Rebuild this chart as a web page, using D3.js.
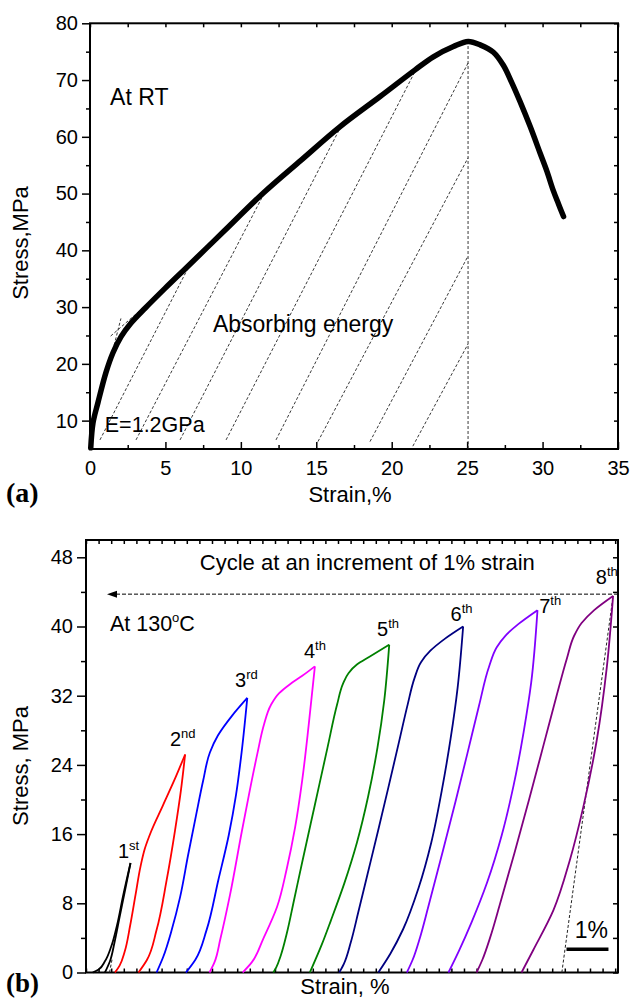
<!DOCTYPE html>
<html>
<head>
<meta charset="utf-8">
<script src="https://d3js.org/d3.v7.min.js"></script>
<style>
body { margin: 0; background: #fff; }
svg { display: block; font-family: "Liberation Sans", Arial, sans-serif; }
</style>
</head>
<body>
<svg width="630" height="999"></svg>
<script>

// ---- (a) tensile curve at RT ----
var rtStrain = [0.05, 0.2, 0.53, 1.06, 1.53, 2.06, 2.72, 3.65, 4.97, 6.37, 7.69, 8.89, 11.49, 14.0, 16.58, 19.23, 21.55, 22.76, 24.09, 25.07, 25.86, 26.74, 27.4, 27.95, 28.51, 29.18, 29.84, 30.29, 30.7, 31.05, 31.39];
var rtStress = [5.2, 9.6, 13.2, 18.5, 22.0, 24.8, 27.2, 29.8, 33.3, 36.9, 40.3, 43.4, 50.1, 55.9, 61.8, 67.1, 71.8, 74.1, 75.9, 76.8, 76.2, 74.9, 72.6, 69.6, 66.2, 61.8, 57.1, 53.9, 50.6, 48.2, 45.95];

// hatch lines of the absorbed energy area
var hatchX0 = [0.66, 3.05, 5.97, 9.02, 12.33, 15.11, 18.56, 21.4];
var hatchY0 = [6.6, 6.6, 6.6, 6.6, 6.6, 6.3, 6.3, 5.5];
var hatchX1 = [6.6, 11.38, 16.57, 21.54, 25.06, 25.06, 25.06, 25.06];
var hatchY1 = [37.4, 49.2, 61.5, 71.5, 73.0, 56.3, 39.0, 23.5];
var tangentA = [[1.37, 24.9], [3.62, 30.1]];
var tangentB = [[1.6, 23.3], [2.05, 28.0]];
var peakLine = [[25.06, 5], [25.06, 76.6]];

var xTicksA = [0, 5, 10, 15, 20, 25, 30, 35];
var xMinorA = [2.5, 7.5, 12.5, 17.5, 22.5, 27.5, 32.5];
var yTicksA = [10, 20, 30, 40, 50, 60, 70, 80];
var yMinorA = [15, 25, 35, 45, 55, 65, 75];

// ---- (b) cyclic loading at 130 C ----
var cycleColors = ["#000000", "#ff0000", "#0000ff", "#ff00ff", "#008000", "#000080", "#8000ff", "#800080"];
var cycleNum = ["1", "2", "3", "4", "5", "6", "7", "8"];
var cycleSup = ["st", "nd", "rd", "th", "th", "th", "th", "th"];
var labelStrain = [0.76, 2.0, 3.55, 5.19, 6.93, 8.68, 10.79, 12.14];
var labelStress = [13.2, 26.2, 33.0, 36.4, 38.9, 40.6, 41.6, 44.9];

// loading branches, [strain, stress], stress rising
var loadCurves = [
  [[0.16,0],[0.3,0.35],[0.45,1.3],[0.6,3.0],[0.74,5.5],[0.88,8.8],[1.06,12.66]],
  [[0.69,0],[0.8,0.8],[0.92,2.4],[1.05,5.4],[1.18,9.0],[1.3,12.3],[1.4,14.3],[1.55,16.3],[1.83,19.3],[2.1,22.2],[2.36,25.2]],
  [[1.68,0],[1.84,1.82],[2.04,4.9],[2.24,8.71],[2.43,13.55],[2.62,18.17],[2.79,22.2],[2.95,25.43],[3.14,27.39],[3.48,29.7],[3.84,31.74]],
  [[2.94,0],[3.06,1.2],[3.2,3.9],[3.43,9.0],[3.71,16.3],[3.90,21.05],[4.08,25.3],[4.24,28.7],[4.40,30.9],[4.6,32.3],[4.85,33.3],[5.15,34.3],[5.45,35.39]],
  [[4.46,0],[4.53,0.6],[4.64,2.0],[4.78,4.5],[4.95,8.3],[5.15,12.8],[5.45,19.4],[5.75,26.0],[5.98,31.0],[6.12,33.4],[6.25,34.6],[6.45,35.6],[6.75,36.5],[7.22,37.89]],
  [[6.03,0],[6.14,1.0],[6.30,3.4],[6.48,6.9],[6.70,11.3],[6.95,16.3],[7.2,21.4],[7.45,26.6],[7.66,31.0],[7.82,34.0],[7.98,35.9],[8.2,37.2],[8.55,38.6],[8.98,40.0]],
  [[7.64,0],[7.78,1.5],[7.95,4.0],[8.15,7.6],[8.5,14.1],[8.8,19.8],[9.08,25.3],[9.36,30.9],[9.6,35.4],[9.78,37.6],[9.98,38.9],[10.3,40.3],[10.75,41.89]],
  [[9.30,0],[9.44,1.5],[9.62,4.0],[9.85,7.8],[10.2,13.8],[10.55,20.0],[10.9,26.4],[11.2,31.9],[11.45,36.3],[11.62,38.9],[11.8,40.4],[12.1,41.9],[12.55,43.54]]
];
// unloading branches, from the peak down to zero stress
var unloadCurves = [
  [[1.06,12.66],[0.93,9.5],[0.8,6.4],[0.68,3.5],[0.57,1.3],[0.45,0]],
  [[2.36,25.2],[2.26,21.05],[2.12,16.44],[1.92,10.67],[1.68,4.9],[1.45,1.44],[1.25,0]],
  [[3.84,31.74],[3.71,25.66],[3.57,20.47],[3.40,15.9],[3.15,10.67],[2.87,4.9],[2.60,1.44],[2.38,0]],
  [[5.45,35.39],[5.3,28.5],[5.15,22.3],[4.98,16.8],[4.78,12.0],[4.55,7.6],[4.22,3.9],[3.95,1.2],[3.73,0]],
  [[7.22,37.89],[7.1,31.4],[6.94,26.0],[6.72,20.4],[6.45,15.0],[6.15,10.3],[5.83,6.0],[5.62,3.3],[5.33,0]],
  [[8.98,40],[8.85,33],[8.68,27.0],[8.47,21.0],[8.22,15.0],[7.92,9.8],[7.55,5.0],[7.25,2.2],[6.96,0]],
  [[10.75,41.89],[10.6,33.5],[10.42,27.8],[10.18,21.6],[9.9,15.9],[9.55,10.4],[9.18,5.8],[8.88,2.5],[8.63,0]],
  [[12.55,43.54],[12.40,35.27],[12.16,26.82],[11.84,19.12],[11.52,12.98],[11.13,7.21],[10.65,2.6],[10.37,0]]
];
var elasticLast = [[11.33, 0], [12.55, 43.54]];
var elasticFirst = [[0.56, 0], [0.62, 1.5]];
var arrowStress = 43.74, arrowFrom = 12.667, arrowTo = 0.5;
var scaleBar = [11.44, 12.44], scaleBarStress = 2.68;

var yTicksB = [0, 8, 16, 24, 32, 40, 48];
var yMinorB = [4, 12, 20, 28, 36, 44];
var xTicksB = d3.range(0, 12.66, 0.3);

var svg = d3.select("svg");
var font = "'Liberation Sans', Arial, sans-serif";

svg.append("rect").attr("width", 630).attr("height", 999).attr("fill", "#fff");

function styleAxis(g, size) {
  g.attr("font-size", size || 20).attr("font-family", font);
  g.select(".domain").remove();
  g.selectAll(".tick line").attr("stroke-width", 1.5);
  g.selectAll(".tick text").attr("fill", "#000");
}

// ================= panel (a) =================
var xA = d3.scaleLinear().domain([0, 35]).range([90, 618]);
var yA = d3.scaleLinear().domain([5, 80]).range([449, 23.3]);
var gA = svg.append("g");

gA.append("g").attr("transform", "translate(0," + yA(5) + ")")
  .call(d3.axisBottom(xA).tickValues(xTicksA).tickSize(-7).tickPadding(12)).call(styleAxis);
gA.append("g").attr("transform", "translate(0," + yA(5) + ")")
  .call(d3.axisBottom(xA).tickValues(xMinorA).tickSize(-4).tickFormat("")).call(styleAxis);
gA.append("g").attr("transform", "translate(0," + yA(80) + ")")
  .call(d3.axisTop(xA).tickValues(xTicksA.concat(xMinorA)).tickSize(-4).tickFormat("")).call(styleAxis);
gA.append("g").attr("transform", "translate(" + xA(0) + ",0)")
  .call(d3.axisLeft(yA).tickValues(yTicksA).tickSize(8).tickPadding(4)).call(styleAxis);
gA.append("g").attr("transform", "translate(" + xA(0) + ",0)")
  .call(d3.axisLeft(yA).tickValues(yMinorA).tickSize(4).tickFormat("")).call(styleAxis);
gA.append("g").attr("transform", "translate(" + xA(35) + ",0)")
  .call(d3.axisRight(yA).tickValues(yTicksA.concat(yMinorA)).tickSize(-4).tickFormat("")).call(styleAxis);

gA.append("rect")
  .attr("x", xA(0)).attr("y", yA(80))
  .attr("width", xA(35) - xA(0)).attr("height", yA(5) - yA(80))
  .attr("fill", "none").attr("stroke", "#000").attr("stroke-width", 2);

var lineA = d3.line().x(function(d) { return xA(d[0]); }).y(function(d) { return yA(d[1]); });

// dashed hatch lines
hatchX0.forEach(function(x0, i) {
  gA.append("path")
    .attr("d", lineA([[x0, hatchY0[i]], [hatchX1[i], hatchY1[i]]]))
    .attr("fill", "none").attr("stroke", "#222").attr("stroke-width", 0.9)
    .attr("stroke-dasharray", "3,2");
});
[tangentA, tangentB, peakLine].forEach(function(seg) {
  gA.append("path").attr("d", lineA(seg))
    .attr("fill", "none").attr("stroke", "#222").attr("stroke-width", 0.9)
    .attr("stroke-dasharray", "3,2");
});

var rtData = rtStrain.map(function(s, i) { return [s, rtStress[i]]; });
gA.append("path")
  .attr("d", lineA.curve(d3.curveCatmullRom.alpha(0.5))(rtData))
  .attr("fill", "none").attr("stroke", "#000").attr("stroke-width", 5.5)
  .attr("stroke-linecap", "round").attr("stroke-linejoin", "round");

gA.append("text").attr("x", xA(1.33)).attr("y", yA(65.6))
  .attr("font-size", 23).text("At RT");
gA.append("text").attr("x", xA(8.15)).attr("y", yA(25.7))
  .attr("font-size", 23).text("Absorbing energy");
gA.append("text").attr("x", xA(0.98)).attr("y", yA(8.0))
  .attr("font-size", 21.5).text("E=1.2GPa");

gA.append("text").attr("x", 350).attr("y", 502)
  .attr("text-anchor", "middle").attr("font-size", 22).text("Strain,%");
gA.append("text").attr("transform", "translate(28,243) rotate(-90)")
  .attr("text-anchor", "middle").attr("font-size", 22).text("Stress,MPa");
gA.append("text").attr("x", 6).attr("y", 502)
  .attr("font-family", "'Liberation Serif', 'Times New Roman', serif")
  .attr("font-weight", "bold").attr("font-size", 28).text("(a)");

// ================= panel (b) =================
var xB = d3.scaleLinear().domain([0, 12.667]).range([86, 618]);
var yB = d3.scaleLinear().domain([0, 50]).range([972.5, 540]);
var gB = svg.append("g");

gB.append("g").attr("transform", "translate(0," + yB(0) + ")")
  .call(d3.axisBottom(xB).tickValues(xTicksB).tickSize(-4).tickFormat("")).call(styleAxis);
gB.append("g").attr("transform", "translate(0," + yB(50) + ")")
  .call(d3.axisTop(xB).tickValues(xTicksB).tickSize(-4).tickFormat("")).call(styleAxis);
gB.append("g").attr("transform", "translate(" + xB(0) + ",0)")
  .call(d3.axisLeft(yB).tickValues(yTicksB).tickSize(9).tickPadding(4)).call(styleAxis);
gB.append("g").attr("transform", "translate(" + xB(0) + ",0)")
  .call(d3.axisLeft(yB).tickValues(yMinorB).tickSize(5).tickFormat("")).call(styleAxis);
gB.append("g").attr("transform", "translate(" + xB(12.667) + ",0)")
  .call(d3.axisRight(yB).tickValues(yTicksB.concat(yMinorB)).tickSize(-5).tickFormat("")).call(styleAxis);

gB.append("rect")
  .attr("x", xB(0)).attr("y", yB(50))
  .attr("width", xB(12.667) - xB(0)).attr("height", yB(0) - yB(50))
  .attr("fill", "none").attr("stroke", "#000").attr("stroke-width", 2);

// x as a monotone function of stress keeps the loops free of wiggles
var lineB = d3.line().x(function(d) { return xB(d[0]); }).y(function(d) { return yB(d[1]); })
  .curve(d3.curveMonotoneY);
var straightB = d3.line().x(function(d) { return xB(d[0]); }).y(function(d) { return yB(d[1]); });

[elasticLast, elasticFirst].forEach(function(seg) {
  gB.append("path").attr("d", straightB(seg))
    .attr("fill", "none").attr("stroke", "#222").attr("stroke-width", 1)
    .attr("stroke-dasharray", "3,2");
});

loadCurves.forEach(function(curve, i) {
  var down = unloadCurves[i].slice().reverse();
  [curve, down].forEach(function(branch) {
    gB.append("path").attr("d", lineB(branch))
      .attr("fill", "none").attr("stroke", cycleColors[i]).attr("stroke-width", 1.8)
      .attr("stroke-linejoin", "round");
  });
  var t = gB.append("text").attr("x", xB(labelStrain[i])).attr("y", yB(labelStress[i]))
    .attr("font-size", 20);
  t.append("tspan").text(cycleNum[i]);
  t.append("tspan").attr("dy", -8).attr("font-size", 13).text(cycleSup[i]);
});

// horizontal dashed arrow
gB.append("path").attr("d", straightB([[arrowFrom, arrowStress], [arrowTo + 0.2, arrowStress]]))
  .attr("stroke", "#000").attr("stroke-width", 1).attr("stroke-dasharray", "4,2").attr("fill", "none");
var ax = xB(arrowTo), ay = yB(arrowStress);
gB.append("path")
  .attr("d", "M" + ax + "," + ay + "l10,-3.5l0,7z")
  .attr("fill", "#000");

gB.append("text").attr("x", xB(2.71)).attr("y", yB(46.5))
  .attr("font-size", 22).text("Cycle at an increment of 1% strain");
var t130 = gB.append("text").attr("x", xB(0.57)).attr("y", yB(39.5)).attr("font-size", 21.5);
t130.append("tspan").text("At 130");
t130.append("tspan").attr("dy", -9).attr("font-size", 13).text("o");
t130.append("tspan").attr("dy", 9).text("C");

// 1% scale bar
gB.append("path").attr("d", straightB([[scaleBar[0], scaleBarStress], [scaleBar[1], scaleBarStress]]))
  .attr("stroke", "#000").attr("stroke-width", 3.5);
gB.append("text").attr("x", xB((scaleBar[0] + scaleBar[1]) / 2) + 4).attr("y", yB(scaleBarStress) - 11)
  .attr("text-anchor", "middle").attr("font-size", 23).text("1%");

gB.append("text").attr("x", 345).attr("y", 994)
  .attr("text-anchor", "middle").attr("font-size", 22).text("Strain, %");
gB.append("text").attr("transform", "translate(28,766) rotate(-90)")
  .attr("text-anchor", "middle").attr("font-size", 22).text("Stress, MPa");
gB.append("text").attr("x", 6).attr("y", 992)
  .attr("font-family", "'Liberation Serif', 'Times New Roman', serif")
  .attr("font-weight", "bold").attr("font-size", 27).text("(b)");

</script>
</body>
</html>
